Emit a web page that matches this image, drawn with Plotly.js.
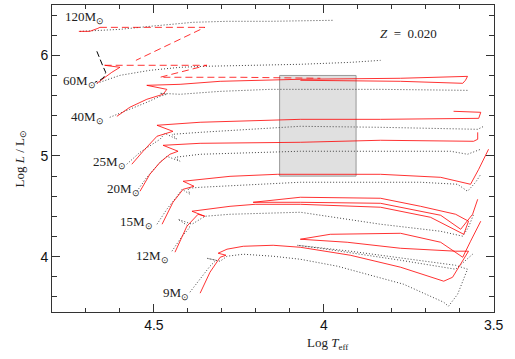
<!DOCTYPE html>
<html>
<head>
<meta charset="utf-8">
<script src="https://cdn.plot.ly/plotly-3.0.1.min.js"></script>
<style>
  body { margin: 0; background: #fff; }
  #hrd { width: 515px; height: 359px; }
</style>
</head>
<body>
<div id="hrd"></div>
<script>
// tracks: x = log Teff, y = log L/Lsun
// 120 Msun
var m120RedX = [4.721, 4.709, 4.689, 4.665, 4.659];
var m120RedY = [6.238, 6.238, 6.238, 6.268, 6.278];
var m120DashX = [4.659, 4.350, 4.553];
var m120DashY = [6.278, 6.278, 5.950];
var m120DotX = [4.718, 4.600, 4.512, 4.385, 4.285, 4.158, 3.972];
var m120DotY = [6.238, 6.258, 6.288, 6.328, 6.338, 6.338, 6.348];

// 60 Msun
var m60BlackX = [4.668, 4.659, 4.650, 4.642, 4.647, 4.659, 4.674];
var m60BlackY = [6.040, 5.960, 5.891, 5.831, 5.782, 5.752, 5.732];
var m60RedX = [4.668, 4.645, 4.624, 4.600, 4.645];
var m60RedY = [5.722, 5.782, 5.831, 5.881, 5.901];
var m60DashX = [4.645, 4.344, 4.482, 4.246, 4.010];
var m60DashY = [5.901, 5.901, 5.782, 5.782, 5.772];
var m60DotX = [4.668, 4.600, 4.512, 4.423, 4.350, 4.217, 4.069, 3.922, 3.833];
var m60DotY = [5.722, 5.801, 5.851, 5.881, 5.891, 5.901, 5.911, 5.930, 5.950];

// 40 Msun
var m40RedX = [4.609, 4.571, 4.521, 4.473, 4.462, 4.491, 4.521, 4.423, 4.305, 4.069, 3.774, 3.577, 3.583, 3.591, 3.774, 4.069];
var m40RedY = [5.394, 5.484, 5.563, 5.613, 5.662, 5.682, 5.702, 5.712, 5.742, 5.762, 5.772, 5.791, 5.752, 5.722, 5.742, 5.752];
var m40DotX = [4.630, 4.571, 4.521, 4.482, 4.462, 4.482, 4.423, 4.305, 4.158, 3.833, 3.574];
var m40DotY = [5.384, 5.464, 5.533, 5.593, 5.613, 5.623, 5.613, 5.642, 5.662, 5.662, 5.652];

// 25 Msun
var m25RedX = [4.565, 4.532, 4.491, 4.444, 4.491, 4.364, 4.069, 3.833, 3.544, 3.538, 3.618];
var m25RedY = [4.918, 5.047, 5.196, 5.245, 5.305, 5.335, 5.364, 5.364, 5.374, 5.434, 5.444];
var m25DotX = [4.580, 4.541, 4.482, 4.468, 4.432, 4.447, 4.364, 4.069, 3.833, 3.547, 3.529];
var m25DotY = [4.918, 5.037, 5.166, 5.225, 5.166, 5.215, 5.235, 5.295, 5.285, 5.265, 5.295];

// 20 Msun
var m20RedX = [4.541, 4.512, 4.482, 4.453, 4.429, 4.473, 4.364, 4.069, 3.833, 3.559, 3.547, 3.547];
var m20RedY = [4.649, 4.818, 4.937, 5.017, 5.047, 5.106, 5.126, 5.136, 5.156, 5.146, 5.166, 5.235];
var m20DotX = [4.550, 4.521, 4.482, 4.462, 4.423, 4.438, 4.364, 4.069, 3.627, 3.577, 3.538];
var m20DotY = [4.649, 4.788, 4.937, 4.997, 4.947, 4.987, 5.017, 5.047, 5.047, 5.017, 5.067];

// 15 Msun
var m15RedX = [4.476, 4.444, 4.414, 4.382, 4.414, 4.276, 4.137, 3.833, 3.656, 3.568, 3.544, 3.515];
var m15RedY = [4.322, 4.540, 4.669, 4.699, 4.749, 4.798, 4.818, 4.818, 4.788, 4.719, 4.868, 5.067];
var m15DotX = [4.491, 4.462, 4.432, 4.417, 4.394, 4.400, 4.364, 4.069, 3.715, 3.606, 3.577, 3.553, 3.538];
var m15DotY = [4.322, 4.471, 4.600, 4.669, 4.620, 4.679, 4.689, 4.739, 4.739, 4.719, 4.649, 4.739, 4.818];

// 12 Msun
var m12RedX = [4.438, 4.403, 4.370, 4.350, 4.388, 4.276, 4.202, 4.069, 3.833, 3.686, 3.588, 3.574, 3.612, 3.715, 3.833, 4.069, 4.208, 4.069, 3.833, 3.656, 3.597, 3.562, 3.547];
var m12RedY = [4.044, 4.302, 4.421, 4.401, 4.451, 4.500, 4.520, 4.520, 4.491, 4.391, 4.222, 4.352, 4.421, 4.500, 4.580, 4.590, 4.540, 4.540, 4.530, 4.411, 4.272, 4.421, 4.570];
var m12DotX = [4.447, 4.417, 4.394, 4.429, 4.388, 4.350, 4.276, 4.069, 3.833, 3.656, 3.591, 3.574, 3.559];
var m12DotY = [4.054, 4.203, 4.292, 4.371, 4.322, 4.401, 4.421, 4.441, 4.322, 4.252, 4.203, 4.292, 4.421];

// 9 Msun
var m9RedX = [4.364, 4.335, 4.305, 4.288, 4.311, 4.285, 4.237, 4.149, 4.069, 3.922, 3.774, 3.647, 3.621, 3.591, 3.574, 3.612, 3.774, 3.931, 4.069, 3.981, 3.854, 3.774, 3.656, 3.591, 3.568, 3.538];
var m9RedY = [3.637, 3.845, 3.994, 4.014, 4.034, 4.074, 4.103, 4.113, 4.093, 4.014, 3.895, 3.756, 3.795, 3.954, 4.054, 4.054, 4.083, 4.143, 4.173, 4.222, 4.232, 4.232, 4.143, 3.994, 4.153, 4.352];
var m9DotX = [4.394, 4.364, 4.335, 4.317, 4.344, 4.305, 4.285, 4.237, 4.149, 4.069, 3.960, 3.765, 3.647, 3.633, 3.606, 3.577, 3.612, 3.774, 3.922, 4.078, 4.010, 3.774, 3.612, 3.562];
var m9DotY = [3.647, 3.776, 3.905, 3.964, 3.984, 3.954, 4.004, 4.024, 4.004, 3.974, 3.905, 3.726, 3.547, 3.507, 3.627, 3.875, 3.914, 3.984, 4.054, 4.113, 4.083, 3.964, 3.875, 4.024];

// mass labels
var massLabels = ["120M<sub>⊙</sub>", "60M<sub>⊙</sub>", "40M<sub>⊙</sub>", "25M<sub>⊙</sub>",
  "20M<sub>⊙</sub>", "15M<sub>⊙</sub>", "12M<sub>⊙</sub>", "9M<sub>⊙</sub>"];
var labelX = [4.704, 4.718, 4.695, 4.630, 4.591, 4.550, 4.503, 4.435];
var labelY = [6.378, 5.742, 5.384, 4.937, 4.669, 4.341, 4.003, 3.636];

// shaded box
var boxX = [4.13, 3.905];
var boxY = [4.8, 5.8];

var serif = "Liberation Serif, Times New Roman, serif";
var red = "rgba(255,0,0,0.8)";

function redLine(x, y) {
  return { x: x, y: y, type: "scatter", mode: "lines", hoverinfo: "skip",
    line: { color: red, width: 1 } };
}
function redDash(x, y) {
  return { x: x, y: y, type: "scatter", mode: "lines", hoverinfo: "skip",
    line: { color: red, width: 1, dash: "7px,4px" } };
}
function dotLine(x, y) {
  return { x: x, y: y, type: "scatter", mode: "lines", hoverinfo: "skip",
    line: { color: "#444444", width: 1, dash: "1px,2px" } };
}

var data = [
  dotLine(m120DotX, m120DotY), redLine(m120RedX, m120RedY), redDash(m120DashX, m120DashY),
  dotLine(m60DotX, m60DotY), redLine(m60RedX, m60RedY), redDash(m60DashX, m60DashY),
  { x: m60BlackX, y: m60BlackY, type: "scatter", mode: "lines", hoverinfo: "skip",
    line: { color: "#000000", width: 1, dash: "6px,3px" } },
  dotLine(m40DotX, m40DotY), redLine(m40RedX, m40RedY),
  dotLine(m25DotX, m25DotY), redLine(m25RedX, m25RedY),
  dotLine(m20DotX, m20DotY), redLine(m20RedX, m20RedY),
  dotLine(m15DotX, m15DotY), redLine(m15RedX, m15RedY),
  dotLine(m12DotX, m12DotY), redLine(m12RedX, m12RedY),
  dotLine(m9DotX, m9DotY), redLine(m9RedX, m9RedY)
];

var annotations = massLabels.map(function (t, i) {
  return { x: labelX[i], y: labelY[i], xref: "x", yref: "y", text: t, showarrow: false,
    xanchor: "center", yanchor: "middle", font: { family: serif, size: 13, color: "#222" } };
});
annotations.push({ x: 3.751, y: 6.22, xref: "x", yref: "y", text: "<i>Z</i>  =  0.020",
  showarrow: false, font: { family: serif, size: 13, color: "#222" } });
annotations.push({ x: 0.624, y: 0, xref: "paper", yref: "paper", yshift: -31,
  text: "Log <i>T</i><sub>eff</sub>", showarrow: false, yanchor: "middle",
  font: { family: serif, size: 13, color: "#222" } });
annotations.push({ x: 0, y: 0.5, xref: "paper", yref: "paper", xshift: -32,
  text: "Log <i>L</i> / L<sub>⊙</sub>", textangle: -90, showarrow: false,
  xanchor: "center", yanchor: "middle", font: { family: serif, size: 13, color: "#222" } });

var axisStyle = {
  ticks: "inside", ticklen: 8, tickcolor: "#333", tickwidth: 1,
  showline: true, linecolor: "#333", linewidth: 1, mirror: "ticks",
  showgrid: false, zeroline: false,
  tickfont: { family: "Liberation Sans, Arial, sans-serif", size: 14, color: "#111" }
};

var layout = {
  width: 515, height: 359,
  margin: { l: 52, r: 21, t: 5, b: 47 },
  showlegend: false,
  paper_bgcolor: "#fff", plot_bgcolor: "#fff",
  xaxis: Object.assign({}, axisStyle, {
    range: [4.8, 3.499], tick0: 3.5, dtick: 0.5,
    minor: { dtick: 0.1, ticks: "inside", ticklen: 4, tickcolor: "#333", showgrid: false }
  }),
  yaxis: Object.assign({}, axisStyle, {
    range: [3.45, 6.5], tick0: 0, dtick: 1,
    minor: { dtick: 0.2, ticks: "inside", ticklen: 5, tickcolor: "#333", showgrid: false }
  }),
  shapes: [{ type: "rect", xref: "x", yref: "y", x0: boxX[0], x1: boxX[1], y0: boxY[0], y1: boxY[1],
    fillcolor: "#e0e0e0", line: { color: "#999", width: 1 }, layer: "below" }],
  annotations: annotations
};

Plotly.newPlot("hrd", data, layout, { displayModeBar: false, staticPlot: true });
</script>
</body>
</html>
